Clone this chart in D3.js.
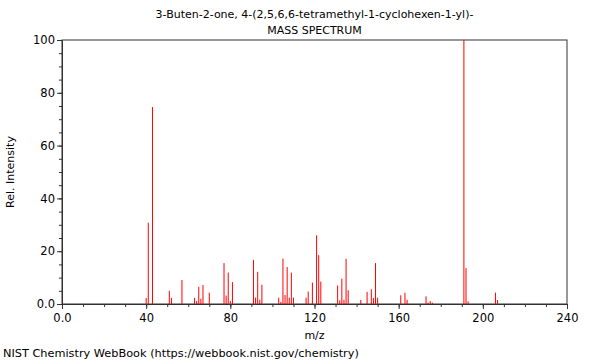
<!DOCTYPE html>
<html>
<head>
<meta charset="utf-8">
<script src="https://cdn.jsdelivr.net/npm/d3@7"></script>
<style>
  body { margin: 0; background: #fff; }
  text { font-family: "DejaVu Sans", sans-serif; }
</style>
</head>
<body>
<div id="chart"></div>
<script>
// peaks
const mz = [40, 41, 43, 51, 52, 57, 63, 64, 65, 66, 67, 70, 77, 78, 79, 80, 81,
  91, 92, 93, 94, 95, 103, 104, 105, 106, 107, 108, 109, 110, 116, 117, 119,
  121, 122, 123, 131, 132, 133, 134, 135, 136, 142, 145, 147, 148, 149, 150,
  161, 163, 164, 173, 174, 175, 176, 191, 192, 193, 206, 207];
const intensity = [2.3, 30.8, 74.6, 5.0, 2.3, 9.1, 2.3, 1.1, 6.5, 2.0, 7.2, 4.3, 15.5, 3.2, 11.9, 1.1, 8.3,
  16.7, 2.4, 12.2, 1.6, 7.3, 2.4, 0.8, 17.2, 3.4, 14.0, 2.4, 11.9, 2.4, 2.4, 4.7, 8.1,
  26.0, 18.5, 8.5, 7.0, 1.4, 9.6, 1.6, 17.1, 5.2, 1.5, 4.6, 5.6, 2.3, 15.5, 2.4,
  3.3, 4.3, 1.6, 2.9, 0.5, 1.1, 0.5, 100, 13.6, 1.0, 4.3, 1.5];
const xTicks = [0, 40, 80, 120, 160, 200, 240];
const yTicks = [0, 20, 40, 60, 80, 100];

const margin = {top: 40, right: 33, bottom: 56, left: 62};
const width = 600 - margin.left - margin.right;
const height = 360 - margin.top - margin.bottom;

const svg = d3.select("#chart")
  .append("svg")
    .attr("width", 600)
    .attr("height", 360);

const g = svg.append("g")
    .attr("transform", `translate(${margin.left}, ${margin.top})`);

const x = d3.scaleLinear().domain([0, 240]).range([0, width]);
const y = d3.scaleLinear().domain([0, 100]).range([height, 0]);

// minor ticks
g.append("g")
  .attr("transform", `translate(0, ${height})`)
  .call(d3.axisBottom(x).tickValues(d3.range(0, 241, 10)).tickSize(3).tickFormat(""))
  .call(a => a.select(".domain").remove());
g.append("g")
  .call(d3.axisLeft(y).tickValues(d3.range(0, 101, 5)).tickSize(3).tickFormat(""))
  .call(a => a.select(".domain").remove());

// major ticks
g.append("g")
  .attr("transform", `translate(0, ${height})`)
  .call(d3.axisBottom(x).tickValues(xTicks).tickSize(5).tickPadding(5)
    .tickFormat(d => d === 0 ? "0.0" : d));
g.append("g")
  .call(d3.axisLeft(y).tickValues(yTicks).tickSize(5).tickPadding(2)
    .tickFormat(d => d === 0 ? "0.0" : d));

g.selectAll(".tick text").style("font-size", "11.5px").attr("fill", "#000");
g.selectAll(".tick line, .domain").attr("stroke", "#333");

// frame
g.append("rect")
  .attr("width", width).attr("height", height)
  .attr("fill", "none").attr("stroke", "#333");

// peaks
g.selectAll(".peak")
  .data(mz)
  .enter()
  .append("line")
    .attr("class", "peak")
    .attr("x1", d => x(d)).attr("x2", d => x(d))
    .attr("y1", y(0))
    .attr("y2", (d, i) => y(intensity[i]))
    .attr("stroke", "#ff0000")
    .attr("stroke-width", 1);

// texts
svg.append("text").attr("x", margin.left + width / 2).attr("y", 18)
  .attr("text-anchor", "middle").style("font-size", "11px")
  .text("3-Buten-2-one, 4-(2,5,6,6-tetramethyl-1-cyclohexen-1-yl)-");
svg.append("text").attr("x", margin.left + width / 2).attr("y", 34)
  .attr("text-anchor", "middle").style("font-size", "11px")
  .text("MASS SPECTRUM");
svg.append("text").attr("x", margin.left + width / 2).attr("y", 339)
  .attr("text-anchor", "middle").style("font-size", "11px")
  .text("m/z");
svg.append("text")
  .attr("transform", `translate(14, ${margin.top + height / 2}) rotate(-90)`)
  .attr("text-anchor", "middle").style("font-size", "11px")
  .text("Rel. Intensity");
svg.append("text").attr("x", 3).attr("y", 357)
  .style("font-size", "11.3px")
  .text("NIST Chemistry WebBook (https://webbook.nist.gov/chemistry)");
</script>
</body>
</html>
